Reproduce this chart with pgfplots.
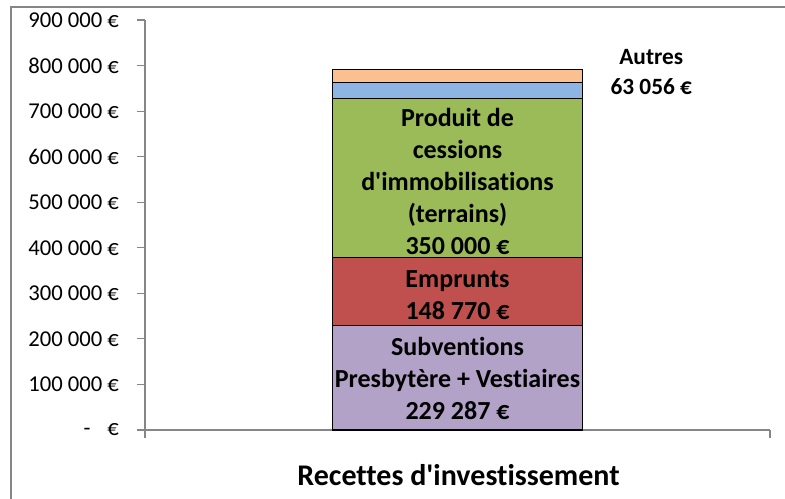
\documentclass[border=0pt]{standalone}
\usepackage{pgfplots}
\pgfplotsset{compat=1.18}
\usepackage{fontspec}
\setmainfont{Carlito}[Ligatures={NoCommon}]
\definecolor{axgray}{HTML}{868686}
\definecolor{cpurple}{HTML}{B3A2C7}
\definecolor{cred}{HTML}{C0504D}
\definecolor{cgreen}{HTML}{9BBB59}
\definecolor{cblue}{HTML}{8EB4E3}
\definecolor{corange}{HTML}{FAC090}
\begin{document}
\begin{tikzpicture}
\useasboundingbox (0pt,0pt) rectangle (588.75pt,-374.25pt);
\draw[color=axgray, line width=1.5pt] (8.25pt,-374.25pt) -- (8.25pt,-5.25pt) -- (588.75pt,-5.25pt);
\begin{axis}[
  at={(108.75pt,-322.5pt)}, anchor=south west,
  scale only axis, width=468.75pt, height=307.5pt,
  ymin=0, ymax=900000, xmin=-1, xmax=1,
  scaled y ticks=false,
  ybar stacked, bar width=0.8,
  axis y line*=left, axis x line*=bottom,
  axis line style={-, draw=axgray, line width=0.9pt},
  tick style={draw=axgray, line width=0.9pt},
  tick align=outside, major tick length=6pt,
  xtick={-1,1}, xticklabels={},
  ytick={0,100000,200000,300000,400000,500000,600000,700000,800000,900000},
  yticklabels={{-\hspace{0.75em}€},{100 000 €},{200 000 €},{300 000 €},{400 000 €},{500 000 €},{600 000 €},{700 000 €},{800 000 €},{900 000 €}},
  yticklabel style={font=\fontsize{17}{19}\selectfont, text=black, xshift=-10pt},
  clip=false,
]
\addplot[fill=cpurple, draw=black, line width=0.8pt] coordinates {(0,229287)};
\addplot[fill=cred, draw=black, line width=0.8pt] coordinates {(0,148770)};
\addplot[fill=cgreen, draw=black, line width=0.8pt] coordinates {(0,350000)};
\addplot[fill=cblue, draw=black, line width=0.8pt] coordinates {(0,35500)};
\addplot[fill=corange, draw=black, line width=0.8pt] coordinates {(0,27556)};
\coordinate (l1) at (axis cs:0,114000);
\coordinate (l2) at (axis cs:0,295500);
\coordinate (l3) at (axis cs:0,546500);
\coordinate (l4) at (axis cs:0.62,785800);
\end{axis}
\node[align=center, font=\fontsize{19.5}{24}\selectfont\bfseries] at (l1) {Subventions\\Presbytère + Vestiaires\\229 287 €};
\node[align=center, font=\fontsize{19.5}{24}\selectfont\bfseries] at (l2) {Emprunts\\148 770 €};
\node[align=center, font=\fontsize{19.5}{24}\selectfont\bfseries] at (l3) {Produit de\\cessions\\d\textquotesingle immobilisations\\(terrains)\\350 000 €};
\node[align=center, font=\fontsize{17.5}{23}\selectfont\bfseries] at (l4) {Autres\\63 056 €};
\node[font=\fontsize{22.5}{26}\selectfont\bfseries] at (343.9pt,-356pt) {Recettes d\textquotesingle investissement};
\end{tikzpicture}
\end{document}
